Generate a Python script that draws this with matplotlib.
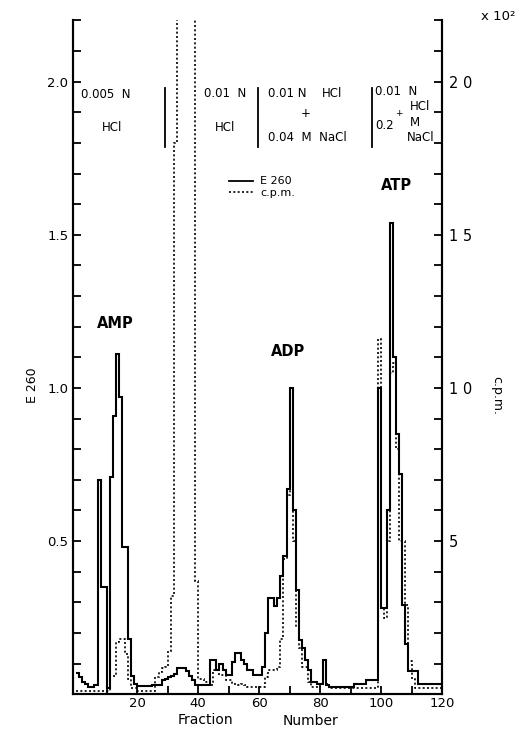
import numpy as np
import matplotlib
matplotlib.use("Agg")
import matplotlib.pyplot as plt
from matplotlib.lines import Line2D

# fraction numbers (each value covers [i, i+1])
fractions = np.arange(0, 121)

# E260, fractions 0..119
e260 = [
    0.07, 0.055, 0.04, 0.035, 0.025, 0.025, 0.03, 0.70, 0.35, 0.35,
    0.02, 0.71, 0.91, 1.11, 0.97, 0.48, 0.48, 0.18, 0.06, 0.035,
    0.026, 0.026, 0.026, 0.026, 0.026, 0.03, 0.03, 0.03, 0.045, 0.05,
    0.055, 0.06, 0.065, 0.085, 0.085, 0.085, 0.075, 0.06, 0.045, 0.03,
    0.03, 0.03, 0.03, 0.03, 0.112, 0.112, 0.079, 0.10, 0.079, 0.062,
    0.062, 0.106, 0.134, 0.134, 0.112, 0.10, 0.079, 0.079, 0.062, 0.062,
    0.062, 0.09, 0.20, 0.314, 0.314, 0.287, 0.314, 0.385, 0.45, 0.67,
    1.00, 0.60, 0.34, 0.177, 0.15, 0.112, 0.079, 0.04, 0.04, 0.033,
    0.033, 0.112, 0.03, 0.024, 0.024, 0.024, 0.024, 0.024, 0.024, 0.024,
    0.024, 0.035, 0.035, 0.035, 0.035, 0.046, 0.046, 0.046, 0.046, 1.00,
    0.28, 0.28, 0.60, 1.54, 1.10, 0.85, 0.72, 0.29, 0.164, 0.075,
    0.075, 0.075, 0.034, 0.034, 0.034, 0.034, 0.034, 0.034, 0.034, 0.034,
]

# c.p.m. (x 10^2), fractions 0..119
cpm = [
    0.1, 0.1, 0.1, 0.1, 0.1, 0.1, 0.1, 0.1, 0.1, 0.1,
    0.1, 0.6, 0.6, 1.7, 1.8, 1.8, 1.3, 0.5, 0.2, 0.2,
    0.12, 0.12, 0.12, 0.12, 0.12, 0.12, 0.56, 0.72, 0.85, 0.9,
    1.4, 3.2, 18.0, 40.0, 40.0, 40.0, 40.0, 40.0, 40.0, 3.7,
    0.5, 0.5, 0.4, 0.4, 0.3, 0.78, 0.78, 0.62, 0.62, 0.46,
    0.46, 0.35, 0.35, 0.3, 0.35, 0.3, 0.22, 0.22, 0.22, 0.22,
    0.22, 0.22, 0.57, 0.79, 0.79, 0.79, 0.9, 1.8, 4.4, 6.5,
    8.8, 5.0, 2.2, 1.5, 0.9, 0.9, 0.4, 0.24, 0.24, 0.24,
    0.35, 0.35, 0.35, 0.2, 0.2, 0.2, 0.2, 0.2, 0.2, 0.2,
    0.2, 0.2, 0.2, 0.2, 0.2, 0.2, 0.2, 0.2, 0.2, 11.6,
    2.8, 2.5, 5.0, 10.5, 10.8, 8.0, 5.0, 5.0, 2.9, 1.1,
    0.5, 0.2, 0.2, 0.2, 0.2, 0.2, 0.2, 0.2, 0.2, 0.2,
]

# eluent changes (fraction numbers)
buffer_changes = [29, 59.5, 97]

fig = plt.figure(figsize=(5.3, 7.3), dpi=100)
ax = fig.add_axes([0.138, 0.049, 0.696, 0.923])
ax2 = ax.twinx()

ax.stairs(e260, fractions, baseline=None, color="black", lw=1.5)
ax2.stairs(cpm, fractions, baseline=None, color="black", lw=1.2,
           linestyle=(0, (1.2, 1.4)))

ax.set_xlim(-1, 120)
ax.set_ylim(0, 2.2)
ax2.set_ylim(0, 22)

for a in (ax, ax2):
    a.spines["top"].set_visible(False)
    for s in a.spines.values():
        s.set_linewidth(1.5)

ax.set_xticks([20, 40, 60, 80, 100, 120])
ax.set_xticks(np.arange(10, 120, 10), minor=True)
ax.set_yticks([0.5, 1.0, 1.5, 2.0])
ax.set_yticklabels(["0.5", "1.0", "1.5", "2.0"])
ax.set_yticks(np.arange(0.1, 2.25, 0.1), minor=True)
ax.tick_params(axis="both", which="both", direction="in", labelsize=9.5)
ax.tick_params(axis="y", which="both", length=6, width=1.3)
ax.tick_params(axis="x", which="both", length=6, width=1.3, pad=2)

ax2.set_yticks([5, 10, 15, 20])
ax2.set_yticklabels(["5", "1 0", "1 5", "2 0"])
ax2.set_yticks(np.arange(1, 23, 1), minor=True)
ax2.tick_params(axis="y", which="both", direction="in", length=6, width=1.3,
                labelsize=10.5, pad=5)

# peak labels
ax.text(12.8, 1.21, "AMP", fontsize=10.5, fontweight="bold", ha="center", va="center")
ax.text(69.5, 1.12, "ADP", fontsize=10.5, fontweight="bold", ha="center", va="center")
ax.text(105, 1.66, "ATP", fontsize=10.5, fontweight="bold", ha="center", va="center")

# eluent annotations
for xc in buffer_changes:
    ax.axvline(xc, ymin=0.812, ymax=0.899, color="black", lw=1.3)

tk = dict(transform=ax.transAxes, fontsize=8.5, va="center")
ax.text(0.022, 0.890, "0.005  N", **tk)
ax.text(0.106, 0.841, "HCl", ha="center", **tk)
ax.text(0.355, 0.892, "0.01  N", **tk)
ax.text(0.412, 0.841, "HCl", ha="center", **tk)
ax.text(0.528, 0.892, "0.01 N", **tk)
ax.text(0.675, 0.892, "HCl", **tk)
ax.text(0.631, 0.862, "+", ha="center", **tk)
ax.text(0.528, 0.826, "0.04  M  NaCl", **tk)
ax.text(0.818, 0.895, "0.01  N", **tk)
ax.text(0.912, 0.872, "HCl", **tk)
ax.text(0.818, 0.844, "0.2", **tk)
ax.text(0.883, 0.862, "+", ha="center", transform=ax.transAxes,
        fontsize=6.5, va="center")
ax.text(0.912, 0.848, "M", **tk)
ax.text(0.905, 0.826, "NaCl", **tk)

# legend
handles = [Line2D([], [], color="black", lw=1.3),
           Line2D([], [], color="black", lw=1.2, linestyle=(0, (1.2, 1.4)))]
ax.legend(handles, ["E 260", "c.p.m."], loc="upper left",
          bbox_to_anchor=(0.41, 0.775), frameon=False, fontsize=8,
          handlelength=2.2, handletextpad=0.6, labelspacing=0.1,
          borderaxespad=0)

# axis titles
fig.text(33 / 530, 1 - 385 / 730, "E 260", rotation=90, fontsize=9,
         ha="center", va="center")
fig.text(497 / 530, 1 - 395 / 730, "c.p.m.", rotation=270, fontsize=9,
         ha="center", va="center")
fig.text(498 / 530, 1 - 16 / 730, "x 10²", fontsize=9.5, ha="center", va="center")
fig.text(205 / 530, 1 - 720 / 730, "Fraction", fontsize=10, ha="center", va="center")
fig.text(311 / 530, 1 - 721 / 730, "Number", fontsize=10, ha="center", va="center")

fig.savefig("out.png", dpi=100)
